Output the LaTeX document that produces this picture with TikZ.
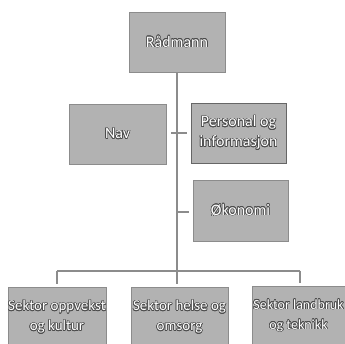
\documentclass[tikz,border=0pt]{standalone}
\usepackage{fontspec}
\setmainfont{Carlito}
\usepackage{contour}
\contourlength{0.6pt}
\newcommand{\ot}[1]{\contour{black!70}{#1}}

\begin{document}
\begin{tikzpicture}[x=1pt, y=1pt,
    boks/.style={draw=black!45, fill=black!30, text=white, align=center,
        minimum width=96pt, minimum height=60pt, inner sep=0pt,
        font=\fontsize{16}{20}\selectfont},
    smaa/.style={font=\fontsize{15}{20}\selectfont},
    linje/.style={draw=black!75, double=black!45, double distance=1.2pt, line width=0.7pt}]
    \useasboundingbox (0,0) rectangle (345,344);

    % --- topp ---
    \node[boks] (radmann) at (177,302) {\ot{Rådmann}};

    % --- stab ---
    \node[boks, minimum width=97pt] (nav) at (117.5,210) {\ot{Nav}};
    \node[boks, minimum width=95pt, draw=black!60] (personal) at (238.5,211) {\ot{Personal og}\\\ot{informasjon}};
    \node[boks, minimum width=95pt, minimum height=61pt] (okonomi) at (240.5,133.5) {\ot{Økonomi}};

    % --- sektorer (nederst, kuttet av kanten) ---
    \node[boks, smaa, minimum width=98pt] (sektor1) at (57,27) {\ot{Sektor oppvekst}\\\ot{og kultur}};
    \node[boks, smaa, minimum width=97pt] (sektor2) at (179.5,27) {\ot{Sektor helse og}\\\ot{omsorg}};
    \node[boks, font=\fontsize{14}{20}\selectfont, minimum width=93pt] (sektor3) at (298.5,28) {\ot{Sektor landbruk}\\\ot{og teknikk}};

    % --- linjer ---
    \coordinate (split) at (177,73);
    \coordinate (venstre) at (57,73);
    \coordinate (hoyre) at (300,73);
    \coordinate (stab) at (177,132);
    \draw[linje] (radmann.south) -- (split);
    \draw[linje] (venstre) -- (hoyre);
    \draw[linje, shorten >=3pt] (venstre) -- (venstre |- sektor1.north);
    \draw[linje, shorten >=3pt] (split) -- (split |- sektor2.north);
    \draw[linje, shorten >=3pt] (hoyre) -- (hoyre |- sektor3.north);
    \draw[linje, shorten <=5pt, shorten >=4pt] (nav.east |- personal) -- (personal.west);
    \draw[linje, shorten >=4pt] (stab) -- (okonomi.west |- stab);
\end{tikzpicture}
\end{document}
